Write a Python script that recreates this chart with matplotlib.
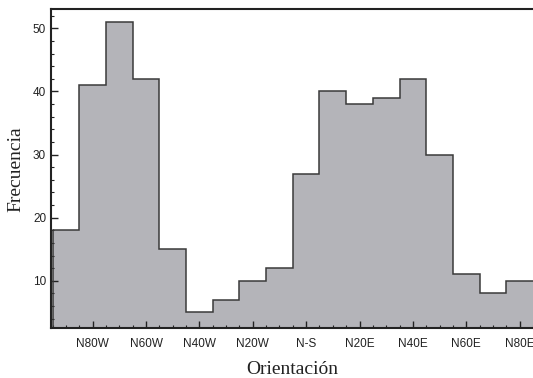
import numpy as np
import matplotlib
matplotlib.use("Agg")
import matplotlib.pyplot as plt
from matplotlib.ticker import MultipleLocator

# orientation bins, centered every 10 deg from N90W (-90) to N80E (80)
bin_centers = list(range(-90, 90, 10))
counts = [18, 41, 51, 42, 15, 5, 7, 10, 12, 27, 40, 38, 39, 42, 30, 11, 8, 10]
tick_pos = [-80, -60, -40, -20, 0, 20, 40, 60, 80]
tick_labels = ["N80W", "N60W", "N40W", "N20W", "N-S", "N20E", "N40E", "N60E", "N80E"]

edges = [c - 5 for c in bin_centers] + [bin_centers[-1] + 5]
base = 0

fig = plt.figure(figsize=(5.33, 3.78), dpi=100)
ax = fig.add_axes([0.0957, 0.132, 0.9043, 0.843])

ax.stairs(counts, edges, baseline=base, fill=True, color="#b4b4b9", zorder=1)
ax.stairs(counts, edges, baseline=None, color="#3a3a3a", lw=1.1, zorder=2)
# closing line on the left side
ax.plot([edges[0], edges[0]], [base, counts[0]], color="#3a3a3a", lw=1.1, zorder=2)

ax.set_xlim(-95.6, 85)
ax.set_ylim(2.5, 53)

ax.set_xticks(tick_pos)
ax.set_xticklabels(tick_labels, fontsize=8.5, color="#222222", family="Liberation Sans")
ax.xaxis.set_minor_locator(MultipleLocator(5))
ax.set_yticks([10, 20, 30, 40, 50])
ax.yaxis.set_minor_locator(MultipleLocator(2))
for lab in ax.get_yticklabels():
    lab.set_fontsize(8.5)
    lab.set_family("Liberation Sans")
    lab.set_color("#222222")

ax.tick_params(which="both", direction="in", top=False, right=False, color="#222222")
ax.tick_params(which="major", length=5, width=1)
ax.tick_params(which="minor", length=2.5, width=0.8)
ax.tick_params(axis="x", pad=7)

for s in ax.spines.values():
    s.set_linewidth(1.5)
    s.set_color("#222222")
ax.spines["right"].set_visible(False)

ax.set_xlabel("Orientación", family="Liberation Serif", fontsize=14, color="#222222", labelpad=8)
ax.set_ylabel("Frecuencia", family="Liberation Serif", fontsize=14, color="#222222", labelpad=6)

fig.savefig("out.png", dpi=100)
